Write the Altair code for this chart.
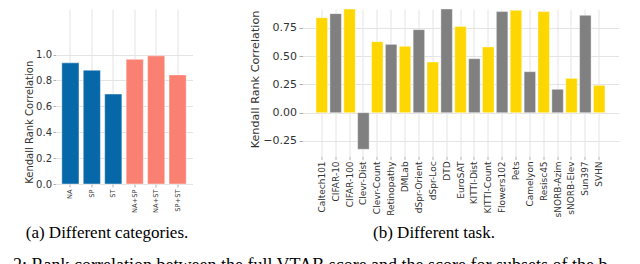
import altair as alt
import pandas as pd

# ---- data ----
cat_labels = ["NA", "SP", "ST", "NA+SP", "NA+ST", "SP+ST"]
cat_values = [0.936, 0.879, 0.695, 0.963, 0.990, 0.843]
cat_groups = ["single", "single", "single", "pair", "pair", "pair"]

task_labels = ["Caltech101", "CIFAR-10", "CIFAR-100", "Clevr-Dist", "Clevr-Count",
               "Retinopathy", "DMLab", "dSpr-Orient", "dSpr-Loc", "DTD", "EuroSAT",
               "KITTI-Dist", "KITTI-Count", "Flowers102", "Pets", "Camelyon",
               "Resisc45", "sNORB-Azim", "sNORB-Elev", "Sun397", "SVHN"]
task_values = [0.841, 0.877, 0.921, -0.324, 0.629, 0.605, 0.588, 0.735, 0.449, 0.933,
               0.762, 0.478, 0.582, 0.895, 0.906, 0.363, 0.895, 0.207, 0.304, 0.862, 0.242]
task_groups = ["even", "odd", "even", "odd", "even", "odd", "even", "odd", "even", "odd",
               "even", "odd", "even", "odd", "even", "odd", "even", "odd", "even", "odd", "even"]

left_ticks = [0.0, 0.2, 0.4, 0.6, 0.8, 1.0]
right_ticks = [-0.25, 0.0, 0.25, 0.5, 0.75]

caption_a = ["(a) Different categories."]
caption_b = ["(b) Different task."]
caption_fig = ["2: Rank correlation between the full VTAB score and the score for subsets of the benchmark."]

y_title = "Kendall Rank Correlation"

left_colors = {"single": "#0668a8", "pair": "#fa8072"}
right_colors = {"even": "#ffd700", "odd": "#808080"}

left_df = pd.DataFrame({"cat": cat_labels, "val": cat_values, "grp": cat_groups})
left_df["col"] = left_df["grp"].map(left_colors)
right_df = pd.DataFrame({"task": task_labels, "val": task_values, "grp": task_groups})
right_df["col"] = right_df["grp"].map(right_colors)

left_bars = alt.Chart(left_df).mark_bar(stroke="white", strokeWidth=0.6, strokeOpacity=0.7).encode(
    x=alt.X("cat:N", sort=cat_labels,
            scale=alt.Scale(paddingInner=0.2, paddingOuter=0.295),
            axis=alt.Axis(title=None, labelAngle=-90, labelFontSize=6.7, grid=True,
                          tickSize=3, labelPadding=2)),
    y=alt.Y("val:Q",
            scale=alt.Scale(domain=[0, 1.04], range=[175, 40.4], nice=False),
            axis=alt.Axis(values=left_ticks, format=".1f", title=y_title,
                          labelFontSize=10, titleFontSize=10, tickSize=2.5, labelPadding=1.5,
                          titleX=-26, titleY=112.8, titleBaseline="middle")),
    color=alt.Color("col:N", scale=None),
)

cap_a = alt.Chart(pd.DataFrame({"t": caption_a})).mark_text(
    font="Liberation Serif", fontSize=17, color="black", align="center", baseline="alphabetic"
).encode(x=alt.value(51.5), y=alt.value(229), text="t:N")

cap_fig = alt.Chart(pd.DataFrame({"t": caption_fig})).mark_text(
    font="Liberation Serif", fontSize=18, color="black", align="left", baseline="alphabetic",
    limit=619, ellipsis=""
).encode(x=alt.value(-42.5), y=alt.value(262), text="t:N")

left = alt.layer(left_bars, cap_a, cap_fig).properties(width=137, height=175)

right_bars = alt.Chart(right_df).mark_bar(stroke="white", strokeWidth=0.6, strokeOpacity=0.7).encode(
    x=alt.X("task:N", sort=task_labels,
            scale=alt.Scale(paddingInner=0.17, paddingOuter=0.976),
            axis=alt.Axis(title=None, labelAngle=-90, labelFontSize=9, grid=True,
                          tickSize=3, labelPadding=1.5)),
    y=alt.Y("val:Q",
            scale=alt.Scale(domain=[-0.387, 0.918], nice=False, clamp=True),
            axis=alt.Axis(values=right_ticks, format=".2f", title=y_title,
                          labelFontSize=11, titleFontSize=11.2, tickSize=3.5, labelPadding=2.5,
                          titleX=-47.5, titleY=70, titleBaseline="middle")),
    color=alt.Color("col:N", scale=None),
)

cap_b = alt.Chart(pd.DataFrame({"t": caption_b})).mark_text(
    font="Liberation Serif", fontSize=17, color="black", align="center", baseline="alphabetic"
).encode(x=alt.value(131.5), y=alt.value(229), text="t:N")

right = alt.layer(right_bars, cap_b).properties(width=316, height=147.4)

chart = alt.hconcat(left, right, spacing=110, bounds="flush").properties(
    padding={"left": 4.5, "top": 0, "right": 0, "bottom": 0}
).configure_view(stroke=None).configure_axis(
    domain=False,
    gridColor="#e4e4e4",
    gridWidth=1,
    tickColor="#9a9a9a",
    tickWidth=0.8,
    labelColor="#333333",
    titleColor="#333333",
    labelFont="DejaVu Sans",
    titleFont="DejaVu Sans",
    titleFontWeight="normal",
)

chart.save("out.html", embed_options={"renderer": "svg", "actions": False})
